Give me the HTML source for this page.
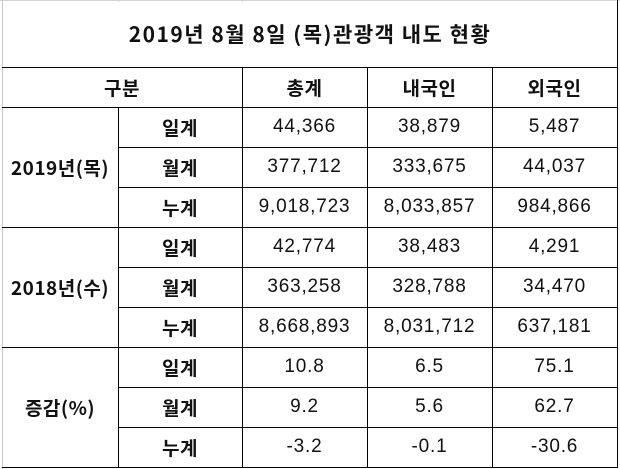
<!DOCTYPE html>
<html><head><meta charset="utf-8"><style>
body{margin:0;width:620px;height:469px;background:#fff;position:relative;overflow:hidden;font-family:"Liberation Sans","Noto Sans CJK KR",sans-serif;color:#111}
.h{position:absolute;height:1px;background:#000}
.v{position:absolute;width:1px;background:#000}
.t{position:absolute;display:flex;align-items:center;justify-content:center;font-size:19px;letter-spacing:0.8px}
.b{font-weight:bold;font-family:"Noto Sans CJK KR",sans-serif;letter-spacing:0.5px}
</style></head><body>
<div style="position:absolute;left:0;top:0;width:620px;height:1px;background:#d4d4d4"></div>
<div style="position:absolute;left:2px;top:0;width:1px;height:469px;background:#c8c8c8"></div>
<div style="position:absolute;left:118px;top:0;width:1px;height:2px;background:#d4d4d4"></div>
<div style="position:absolute;left:242px;top:0;width:1px;height:2px;background:#d4d4d4"></div>
<div class="h" style="left:2px;top:67px;width:616px"></div>
<div class="h" style="left:2px;top:107px;width:616px"></div>
<div class="h" style="left:118px;top:147px;width:500px"></div>
<div class="h" style="left:118px;top:187px;width:500px"></div>
<div class="h" style="left:2px;top:227px;width:616px"></div>
<div class="h" style="left:118px;top:267px;width:500px"></div>
<div class="h" style="left:118px;top:307px;width:500px"></div>
<div class="h" style="left:2px;top:347px;width:616px"></div>
<div class="h" style="left:118px;top:387px;width:500px"></div>
<div class="h" style="left:118px;top:427px;width:500px"></div>
<div class="h" style="left:2px;top:467px;width:616px"></div>
<div class="v" style="left:617px;top:0;height:468px"></div>
<div class="v" style="left:118px;top:107px;height:361px"></div>
<div class="v" style="left:242px;top:67px;height:401px"></div>
<div class="v" style="left:367px;top:67px;height:401px"></div>
<div class="v" style="left:492px;top:67px;height:401px"></div>
<div class="t b" style="left:2px;top:0;width:616px;height:67px;font-size:21px;letter-spacing:1.5px">2019년 8월 8일 (목)관광객 내도 현황</div>
<div class="t b" style="left:2px;top:67px;width:240px;height:40px">구분</div>
<div class="t b" style="left:242px;top:67px;width:125px;height:40px">총계</div>
<div class="t b" style="left:367px;top:67px;width:125px;height:40px">내국인</div>
<div class="t b" style="left:492px;top:67px;width:125px;height:40px">외국인</div>
<div class="t b" style="left:2px;top:107px;width:116px;height:120px">2019년(목)</div>
<div class="t b" style="left:2px;top:227px;width:116px;height:120px">2018년(수)</div>
<div class="t b" style="left:2px;top:347px;width:116px;height:120px">증감(%)</div>
<div class="t b" style="left:118px;top:107px;width:124px;height:40px">일계</div>
<div class="t b" style="left:118px;top:147px;width:124px;height:40px">월계</div>
<div class="t b" style="left:118px;top:187px;width:124px;height:40px">누계</div>
<div class="t b" style="left:118px;top:227px;width:124px;height:40px">일계</div>
<div class="t b" style="left:118px;top:267px;width:124px;height:40px">월계</div>
<div class="t b" style="left:118px;top:307px;width:124px;height:40px">누계</div>
<div class="t b" style="left:118px;top:347px;width:124px;height:40px">일계</div>
<div class="t b" style="left:118px;top:387px;width:124px;height:40px">월계</div>
<div class="t b" style="left:118px;top:427px;width:124px;height:40px">누계</div>
<div class="t" style="left:242px;top:107px;width:125px;height:40px">44,366</div>
<div class="t" style="left:367px;top:107px;width:125px;height:40px">38,879</div>
<div class="t" style="left:492px;top:107px;width:125px;height:40px">5,487</div>
<div class="t" style="left:242px;top:147px;width:125px;height:40px">377,712</div>
<div class="t" style="left:367px;top:147px;width:125px;height:40px">333,675</div>
<div class="t" style="left:492px;top:147px;width:125px;height:40px">44,037</div>
<div class="t" style="left:242px;top:187px;width:125px;height:40px">9,018,723</div>
<div class="t" style="left:367px;top:187px;width:125px;height:40px">8,033,857</div>
<div class="t" style="left:492px;top:187px;width:125px;height:40px">984,866</div>
<div class="t" style="left:242px;top:227px;width:125px;height:40px">42,774</div>
<div class="t" style="left:367px;top:227px;width:125px;height:40px">38,483</div>
<div class="t" style="left:492px;top:227px;width:125px;height:40px">4,291</div>
<div class="t" style="left:242px;top:267px;width:125px;height:40px">363,258</div>
<div class="t" style="left:367px;top:267px;width:125px;height:40px">328,788</div>
<div class="t" style="left:492px;top:267px;width:125px;height:40px">34,470</div>
<div class="t" style="left:242px;top:307px;width:125px;height:40px">8,668,893</div>
<div class="t" style="left:367px;top:307px;width:125px;height:40px">8,031,712</div>
<div class="t" style="left:492px;top:307px;width:125px;height:40px">637,181</div>
<div class="t" style="left:242px;top:347px;width:125px;height:40px">10.8</div>
<div class="t" style="left:367px;top:347px;width:125px;height:40px">6.5</div>
<div class="t" style="left:492px;top:347px;width:125px;height:40px">75.1</div>
<div class="t" style="left:242px;top:387px;width:125px;height:40px">9.2</div>
<div class="t" style="left:367px;top:387px;width:125px;height:40px">5.6</div>
<div class="t" style="left:492px;top:387px;width:125px;height:40px">62.7</div>
<div class="t" style="left:242px;top:427px;width:125px;height:40px">-3.2</div>
<div class="t" style="left:367px;top:427px;width:125px;height:40px">-0.1</div>
<div class="t" style="left:492px;top:427px;width:125px;height:40px">-30.6</div>
</body></html>
